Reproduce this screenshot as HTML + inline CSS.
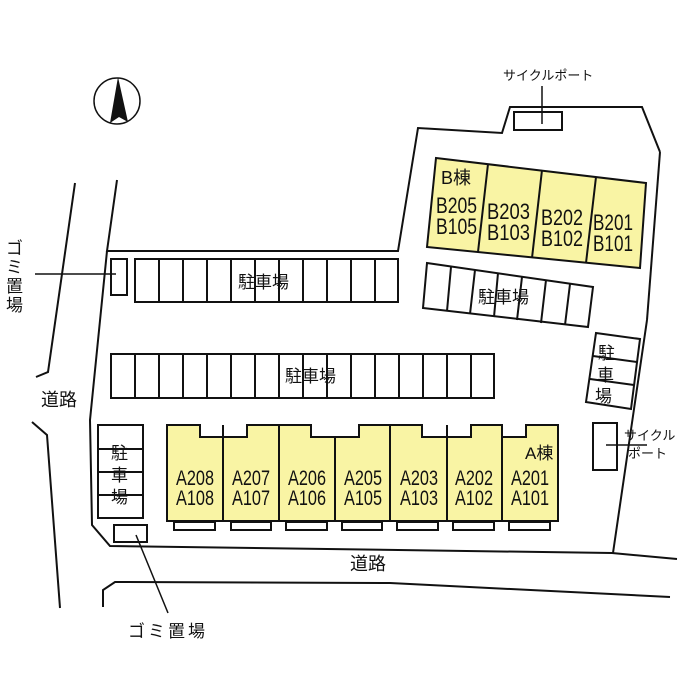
<!DOCTYPE html>
<html><head><meta charset="utf-8"><style>
html,body{margin:0;padding:0;background:#fff;}
svg{display:block;}
text{font-family:"Liberation Sans","Noto Sans CJK JP",sans-serif;fill:#111;}
.j{font-family:"Noto Sans CJK JP",sans-serif;}
</style></head><body>
<svg width="700" height="700" viewBox="0 0 700 700" xmlns="http://www.w3.org/2000/svg">
<g fill="none" stroke="#111" stroke-width="2">
<circle cx="117" cy="101" r="23" stroke-width="1.5"/>
<polyline points="75,183 48,372 36,377"/>
<polyline points="32,422 47,435 60,608"/>
<polyline points="117,180 107,251 398,251 418,128 502,133 510,107 642,107 660,152"/>
<polyline points="107,251 90,420 92,525 110,546 612,553 677,559"/>
<line x1="647" y1="320" x2="613" y2="553"/>
<line x1="660" y1="152" x2="647" y2="320"/>
<polyline points="103,607 103,590 115,582 390,583 670,597"/>
<rect x="514" y="112" width="48" height="18"/>
<line x1="542" y1="86" x2="542" y2="124" stroke-width="1.5"/>
<rect x="111" y="259" width="16" height="36"/>
<line x1="35" y1="274" x2="116" y2="274" stroke-width="1.5"/>
<rect x="135" y="259" width="263" height="43"/>
<path d="M159,259V302M183,259V302M207,259V302M231,259V302M255,259V302M279,259V302M303,259V302M327,259V302M351,259V302M375,259V302"/>
<rect x="111" y="354" width="383" height="44"/>
<path d="M135,354V398M159,354V398M183,354V398M207,354V398M231,354V398M255,354V398M279,354V398M303,354V398M327,354V398M351,354V398M375,354V398M399,354V398M423,354V398M447,354V398M471,354V398"/>
<polygon points="427,263 593,287 588,327 423,308"/>
<path d="M451,267L447,311M475,270L470,314M498,273L494,317M522,277L517,320M546,280L541,323M570,284L565,325"/>
<polygon points="596,333 640,339 631,409 586,402"/>
<path d="M593,356L637,362M590,379L634,385"/>
<rect x="593" y="423" width="24" height="47"/>
<line x1="606" y1="445" x2="647" y2="445" stroke-width="1.5"/>
<rect x="98" y="425" width="45" height="93"/>
<path d="M98,449H143M98,472H143M98,495H143"/>
<rect x="114" y="525" width="33" height="17"/>
<line x1="136" y1="535" x2="168" y2="613" stroke-width="1.5"/>
</g>
<polygon points="118,77 128,122 119,117 110,123" fill="#111"/>
<polygon points="436,158 646,183 640,268 427,247" fill="#f9f4a4" stroke="#111" stroke-width="2"/>
<path d="M488,164L478,252M542,170L532,258M596,177L586,263" stroke="#111" stroke-width="2"/>
<path d="M167,425H200V437H247V425H311V437H359V425H422V437H471V425H502V437H526V425H558V521H167Z" fill="#f9f4a4" stroke="#111" stroke-width="2"/>
<path d="M223,425V521M279,425V521M335,437V521M390,425V521M447,425V521M502,425V521" stroke="#111" stroke-width="2"/>
<g fill="none" stroke="#111" stroke-width="2">
<rect x="174" y="522" width="41" height="8"/><rect x="231" y="522" width="40" height="8"/><rect x="286" y="522" width="41" height="8"/><rect x="342" y="522" width="40" height="8"/><rect x="397" y="522" width="41" height="8"/><rect x="453" y="522" width="41" height="8"/><rect x="509" y="522" width="41" height="8"/>
</g>
<g font-size="22">
<text x="436" y="213" textLength="41" lengthAdjust="spacingAndGlyphs">B205</text><text x="436" y="234" textLength="41" lengthAdjust="spacingAndGlyphs">B105</text>
<text x="487" y="219" textLength="43" lengthAdjust="spacingAndGlyphs">B203</text><text x="487" y="240" textLength="43" lengthAdjust="spacingAndGlyphs">B103</text>
<text x="541" y="225" textLength="42" lengthAdjust="spacingAndGlyphs">B202</text><text x="541" y="246" textLength="42" lengthAdjust="spacingAndGlyphs">B102</text>
<text x="593" y="230" textLength="40" lengthAdjust="spacingAndGlyphs">B201</text><text x="593" y="251" textLength="40" lengthAdjust="spacingAndGlyphs">B101</text>
</g>
<text x="441" y="184" font-size="18">B棟</text>
<g font-size="21">
<text x="176" y="485" textLength="38" lengthAdjust="spacingAndGlyphs">A208</text><text x="176" y="505" textLength="38" lengthAdjust="spacingAndGlyphs">A108</text>
<text x="232" y="485" textLength="38" lengthAdjust="spacingAndGlyphs">A207</text><text x="232" y="505" textLength="38" lengthAdjust="spacingAndGlyphs">A107</text>
<text x="288" y="485" textLength="38" lengthAdjust="spacingAndGlyphs">A206</text><text x="288" y="505" textLength="38" lengthAdjust="spacingAndGlyphs">A106</text>
<text x="344" y="485" textLength="38" lengthAdjust="spacingAndGlyphs">A205</text><text x="344" y="505" textLength="38" lengthAdjust="spacingAndGlyphs">A105</text>
<text x="400" y="485" textLength="38" lengthAdjust="spacingAndGlyphs">A203</text><text x="400" y="505" textLength="38" lengthAdjust="spacingAndGlyphs">A103</text>
<text x="455" y="485" textLength="38" lengthAdjust="spacingAndGlyphs">A202</text><text x="455" y="505" textLength="38" lengthAdjust="spacingAndGlyphs">A102</text>
<text x="511" y="485" textLength="38" lengthAdjust="spacingAndGlyphs">A201</text><text x="511" y="505" textLength="38" lengthAdjust="spacingAndGlyphs">A101</text>
</g>
<text x="525" y="459" font-size="17">A棟</text>
<g class="j">
<text x="238" y="288" class="j" font-size="17">駐車場</text>
<text x="285" y="382" class="j" font-size="17">駐車場</text>
<text x="478" y="303" class="j" font-size="17">駐車場</text>
<text x="111" y="459" class="j" font-size="17">駐</text><text x="111" y="481" class="j" font-size="17">車</text><text x="111" y="503" class="j" font-size="17">場</text>
<text x="598" y="359" class="j" font-size="17">駐</text><text x="597" y="381" class="j" font-size="17">車</text><text x="595" y="402" class="j" font-size="17">場</text>
<text x="41" y="406" class="j" font-size="18">道路</text>
<text x="350" y="570" class="j" font-size="18">道路</text>
<text x="128" y="637" class="j" font-size="17" letter-spacing="3">ゴミ置場</text>
<text x="503" y="80" class="j" font-size="13">サイクルポート</text>
<text x="624" y="440" class="j" font-size="13">サイクル</text>
<text x="628" y="458" class="j" font-size="13">ポート</text>
<text x="6" y="254" class="j" font-size="17">ゴ</text><text x="6" y="273" class="j" font-size="17">ミ</text><text x="6" y="292" class="j" font-size="17">置</text><text x="6" y="311" class="j" font-size="17">場</text>
</g>
</svg>
</body></html>
